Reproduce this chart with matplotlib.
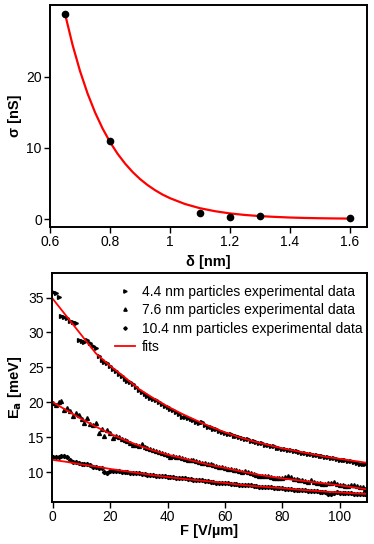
import matplotlib
matplotlib.use("Agg")
import matplotlib.pyplot as plt

plt.rcParams["font.family"] = ["Liberation Sans", "DejaVu Sans"]

# --- top panel: conductance vs. gap ---
delta_nm = [0.65, 0.8, 1.1, 1.2, 1.3, 1.6]
sigma_nS = [28.8, 10.9, 0.8, 0.3, 0.4, 0.1]

delta_fit = [0.65, 0.675, 0.70, 0.725, 0.75, 0.775, 0.80, 0.825, 0.85, 0.875,
             0.90, 0.925, 0.95, 0.975, 1.00, 1.05, 1.10, 1.15, 1.20, 1.25,
             1.30, 1.35, 1.40, 1.45, 1.50, 1.55, 1.60]
sigma_fit = [28.8, 24.46, 20.77, 17.64, 14.98, 12.73, 10.81, 9.18, 7.80, 6.62,
             5.62, 4.78, 4.06, 3.44, 2.93, 2.11, 1.52, 1.10, 0.79, 0.57,
             0.41, 0.30, 0.21, 0.15, 0.11, 0.08, 0.06]

# --- bottom panel: activation energy vs. field ---
field = list(range(0, 110))
ea_44 = [35.8, 35.6, 35.1, 32.3, 32.2, 32.0, 31.6, 31.5, 31.3, 28.9,
         28.8, 28.7, 28.9, 28.5, 28.0, 27.7, 26.6, 26.0, 25.8, 25.6,
         25.2, 24.8, 24.5, 24.1, 23.8, 23.3, 23.1, 22.9, 22.6, 22.2,
         21.8, 21.5, 21.2, 20.9, 20.6, 20.4, 20.3, 20.1, 19.8, 19.5,
         19.3, 19.1, 18.9, 18.6, 18.3, 17.9, 17.9, 17.7, 17.6, 17.4,
         17.2, 17.1, 17.2, 16.7, 16.5, 16.4, 16.2, 16.1, 15.9, 15.8,
         15.6, 15.5, 15.4, 15.2, 15.1, 15.0, 14.9, 14.8, 14.7, 14.5,
         14.4, 14.3, 14.2, 14.1, 13.9, 13.9, 13.8, 13.7, 13.5, 13.4,
         13.3, 13.3, 13.2, 13.1, 13.0, 13.0, 12.9, 12.8, 12.7, 12.6,
         12.6, 12.5, 12.4, 12.3, 12.3, 12.2, 12.1, 12.0, 12.0, 11.9,
         11.8, 11.8, 11.7, 11.6, 11.6, 11.5, 11.3, 11.2, 11.1, 11.1]
ea_76 = [19.9, 19.6, 20.1, 20.2, 18.9, 19.2, 18.7, 18.0, 18.5, 18.2,
         17.6, 17.1, 17.7, 16.9, 16.7, 17.0, 15.6, 16.2, 15.1, 16.0,
         15.6, 14.9, 15.1, 15.0, 14.8, 14.6, 14.4, 14.2, 13.9, 13.9,
         13.8, 14.0, 13.6, 13.4, 13.3, 13.1, 13.0, 12.9, 12.8, 12.6,
         12.5, 12.2, 12.3, 12.2, 12.1, 12.0, 11.9, 11.8, 11.7, 11.7,
         11.6, 11.4, 11.3, 11.3, 11.1, 11.1, 11.0, 10.9, 10.8, 10.7,
         10.6, 10.5, 10.4, 10.3, 10.3, 10.1, 10.0, 10.2, 10.0, 9.8,
         9.7, 9.6, 9.5, 9.5, 9.4, 9.4, 9.3, 9.2, 9.2, 9.1,
         9.1, 9.3, 9.4, 9.3, 9.0, 9.0, 8.8, 8.9, 8.7, 8.6,
         8.8, 8.6, 8.5, 8.4, 8.3, 8.3, 8.4, 8.5, 8.6, 8.3,
         8.1, 8.1, 8.0, 8.0, 8.2, 8.1, 8.0, 7.9, 7.8, 7.6]
ea_104 = [12.1, 12.2, 12.2, 12.3, 12.3, 12.2, 11.7, 11.5, 11.4, 11.3,
          11.2, 11.2, 11.1, 11.0, 10.8, 10.7, 10.6, 10.6, 10.0, 9.8,
          10.2, 10.2, 10.1, 10.1, 10.0, 10.0, 9.95, 9.9, 9.9, 9.8,
          9.8, 9.75, 9.7, 9.65, 9.6, 9.6, 9.5, 9.5, 9.45, 9.4,
          9.35, 9.3, 9.3, 9.2, 9.2, 9.1, 9.1, 9.0, 9.0, 8.9,
          8.9, 8.8, 8.8, 8.7, 8.7, 8.6, 8.6, 8.5, 8.5, 8.5,
          8.4, 8.4, 8.3, 8.3, 8.3, 8.2, 8.2, 8.1, 8.1, 8.1,
          8.0, 8.0, 7.9, 7.9, 7.9, 7.8, 7.8, 7.75, 7.7, 7.7,
          7.65, 7.6, 7.6, 7.55, 7.5, 7.5, 7.45, 7.4, 7.4, 7.35,
          7.3, 7.3, 7.25, 7.2, 7.2, 7.1, 6.9, 6.8, 7.0, 7.1,
          7.05, 7.0, 7.0, 6.95, 6.95, 6.9, 6.9, 6.9, 6.85, 6.85]

field_fit = list(range(0, 115, 5))
fit_44 = [34.8, 32.2, 29.6, 27.0, 25.2, 23.6, 21.9, 20.6, 19.4, 18.35, 17.4, 16.5,
          15.7, 15.0, 14.4, 13.9, 13.4, 13.0, 12.6, 12.2, 11.9, 11.6, 11.3]
fit_76 = [20.0, 18.8, 17.6, 16.5, 15.5, 14.6, 13.8, 13.1, 12.5, 12.0, 11.5, 11.0,
          10.6, 10.15, 9.75, 9.4, 9.1, 8.85, 8.6, 8.35, 8.1, 7.8, 7.5]
fit_104 = [11.75, 11.45, 11.1, 10.8, 10.45, 10.15, 9.85, 9.55, 9.3, 9.05, 8.85, 8.65,
           8.45, 8.2, 8.0, 7.85, 7.7, 7.5, 7.35, 7.2, 7.1, 6.95, 6.85]

fig = plt.figure(figsize=(3.74, 5.44), dpi=100)
ax1 = fig.add_axes([0.134, 0.583, 0.847, 0.408])
ax2 = fig.add_axes([0.139, 0.077, 0.842, 0.421])

for ax in (ax1, ax2):
    for sp in ax.spines.values():
        sp.set_linewidth(1.4)
    ax.tick_params(direction="out", length=4, width=1, labelsize=10, pad=2)

ax1.plot(delta_fit, sigma_fit, color="red", linewidth=1.6, zorder=2)
ax1.plot(delta_nm, sigma_nS, "o", color="black", markersize=4.5, zorder=3)
ax1.set_xlim(0.6, 1.657)
ax1.set_ylim(-1.1, 30.1)
ax1.set_xticks([0.6, 0.8, 1.0, 1.2, 1.4, 1.6])
ax1.set_xticklabels(["0.6", "0.8", "1", "1.2", "1.4", "1.6"])
ax1.set_yticks([0, 10, 20])
ax1.set_xlabel("δ [nm]", fontsize=10.5, fontweight="bold", labelpad=4)
ax1.set_ylabel("σ [nS]", fontsize=10.5, fontweight="bold", labelpad=3)

ax2.plot(field, ea_44, ">", color="black", markersize=2.8, linestyle="none",
         label="4.4 nm particles experimental data")
ax2.plot(field, ea_76, "^", color="black", markersize=2.8, linestyle="none",
         label="7.6 nm particles experimental data")
ax2.plot(field, ea_104, "D", color="black", markersize=2.1, linestyle="none",
         label="10.4 nm particles experimental data")
ax2.plot(field_fit, fit_44, color="red", linewidth=1.3, label="fits")
ax2.plot(field_fit, fit_76, color="red", linewidth=1.3)
ax2.plot(field_fit, fit_104, color="red", linewidth=1.3)
ax2.set_xlim(-0.3, 109.5)
ax2.set_ylim(5.7, 38.5)
ax2.set_xticks([0, 20, 40, 60, 80, 100])
ax2.set_yticks([10, 15, 20, 25, 30, 35])
ax2.set_xlabel("F [V/µm]", fontsize=10.5, fontweight="bold", labelpad=0)
ax2.set_ylabel("E$_\\mathbf{a}$ [meV]", fontsize=10.5, fontweight="bold", labelpad=3)
ax2.legend(loc="upper right", bbox_to_anchor=(1.0, 0.967), frameon=False,
           fontsize=10, handlelength=1.45, handletextpad=0.5, labelspacing=0.32,
           borderaxespad=0, borderpad=0.3, markerscale=0.85)

fig.savefig("out.png", dpi=100)
